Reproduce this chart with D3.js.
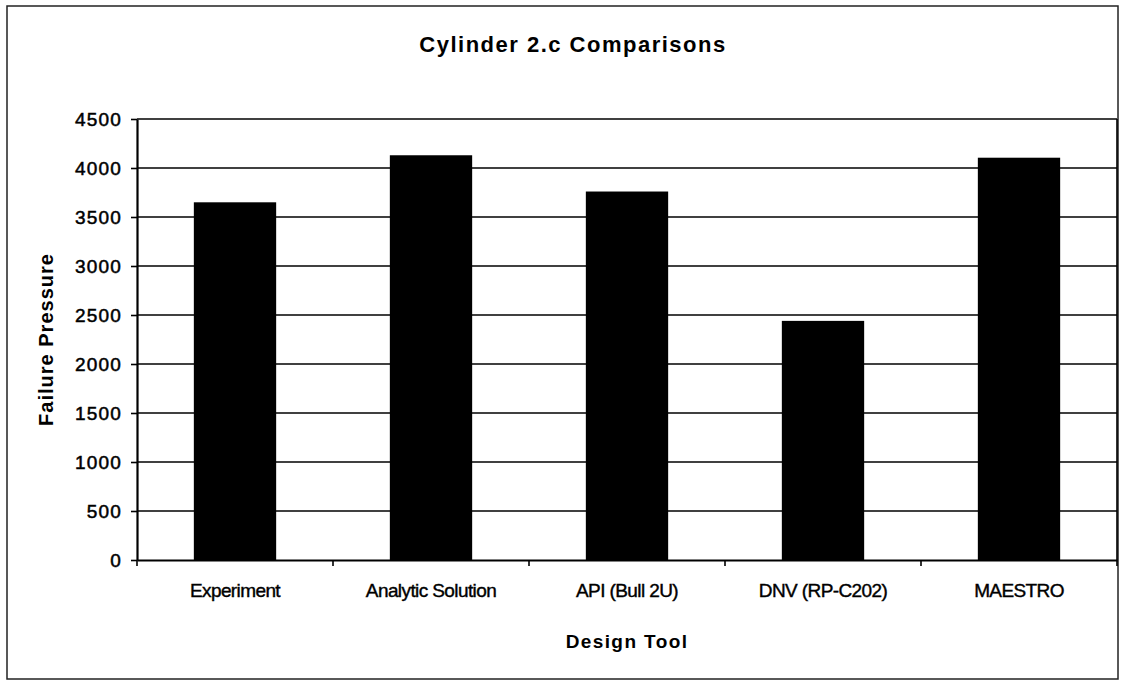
<!DOCTYPE html>
<html>
<head>
<meta charset="utf-8">
<script src="https://cdn.jsdelivr.net/npm/d3@7"></script>
<style>
  html, body { margin: 0; padding: 0; background: #fff; }
  svg { display: block; font-family: "Liberation Sans", Arial, sans-serif; }
</style>
</head>
<body>
<svg id="chart" width="1125" height="684"></svg>
<script>
const categories = ["Experiment", "Analytic Solution", "API (Bull 2U)", "DNV (RP-C202)", "MAESTRO"];
const values = [3650, 4130, 3760, 2440, 4105];
const yTicks = [0, 500, 1000, 1500, 2000, 2500, 3000, 3500, 4000, 4500];
const chartTitle = "Cylinder 2.c Comparisons";
const xTitle = "Design Tool";
const yTitle = "Failure Pressure";

(function () {
const svg = d3.select("#chart");
const pLeft = 137, pRight = 1117, pTop = 119, pBottom = 560;

// outer frame
svg.append("rect").attr("x", 7).attr("y", 6).attr("width", 1111).attr("height", 673)
  .attr("fill", "none").attr("stroke", "#222").attr("stroke-width", 1.5);

const x = d3.scaleBand().domain(categories).range([pLeft, pRight])
  .paddingInner(0.58).paddingOuter(0.29);
const y = d3.scaleLinear().domain([0, 4500]).range([pBottom, pTop]);

// gridlines
svg.append("g").selectAll("line").data(yTicks.filter(t => t > 0)).join("line")
  .attr("x1", pLeft).attr("x2", pRight)
  .attr("y1", d => y(d)).attr("y2", d => y(d))
  .attr("stroke", "#000").attr("stroke-width", 1.6);

// right border
svg.append("line").attr("x1", pRight).attr("x2", pRight).attr("y1", pTop).attr("y2", pBottom)
  .attr("stroke", "#000").attr("stroke-width", 1.6);

// bars
svg.append("g").selectAll("rect").data(categories).join("rect")
  .attr("x", d => x(d)).attr("width", x.bandwidth())
  .attr("y", (d, i) => y(values[i])).attr("height", (d, i) => y(0) - y(values[i]))
  .attr("fill", "#000");

// y axis
const yAxis = d3.axisLeft(y).tickValues(yTicks).tickFormat(d3.format("d"))
  .tickSize(6).tickPadding(9).tickSizeOuter(0);
const gy = svg.append("g").attr("transform", `translate(${pLeft},0)`).call(yAxis);
gy.select(".domain").attr("stroke", "#000").attr("stroke-width", 2.2);
gy.selectAll(".tick line").attr("stroke", "#000").attr("stroke-width", 1.6);
gy.selectAll(".tick text").attr("fill", "#000").attr("stroke", "#000").attr("stroke-width", 0.5)
  .style("font-size", "19px").style("letter-spacing", "1.2px").attr("dy", "0.36em");

// x axis
const xAxis = d3.axisBottom(x).tickSize(0).tickPadding(24).tickSizeOuter(0);
const gx = svg.append("g").attr("transform", `translate(0,${pBottom})`).call(xAxis);
gx.select(".domain").attr("stroke", "#000").attr("stroke-width", 2.2);
gx.selectAll(".tick text").attr("fill", "#000").attr("stroke", "#000").attr("stroke-width", 0.4)
  .style("font-size", "19px").style("letter-spacing", "-0.6px");
// category boundary ticks
const bounds = categories.map(c => x(c) - x.step() * x.paddingInner() / 2).concat([pRight]);
svg.append("g").selectAll("line").data(bounds).join("line")
  .attr("x1", d => d).attr("x2", d => d).attr("y1", pBottom).attr("y2", pBottom + 6)
  .attr("stroke", "#000").attr("stroke-width", 1.6);

// title
svg.append("text").attr("x", (pLeft + pRight) / 2 - 54).attr("y", 52)
  .attr("text-anchor", "middle").style("font-size", "22px").style("font-weight", "bold")
  .style("letter-spacing", "1.5px").text(chartTitle);

// x axis title
svg.append("text").attr("x", (pLeft + pRight) / 2).attr("y", 648)
  .attr("text-anchor", "middle").style("font-size", "19px").style("font-weight", "bold")
  .style("letter-spacing", "1.4px").text(xTitle);

// y axis title
svg.append("text").attr("transform", `translate(53,${(pTop + pBottom) / 2}) rotate(-90)`)
  .attr("text-anchor", "middle").style("font-size", "20px").style("font-weight", "bold")
  .style("letter-spacing", "1px").text(yTitle);
})();
</script>
</body>
</html>
